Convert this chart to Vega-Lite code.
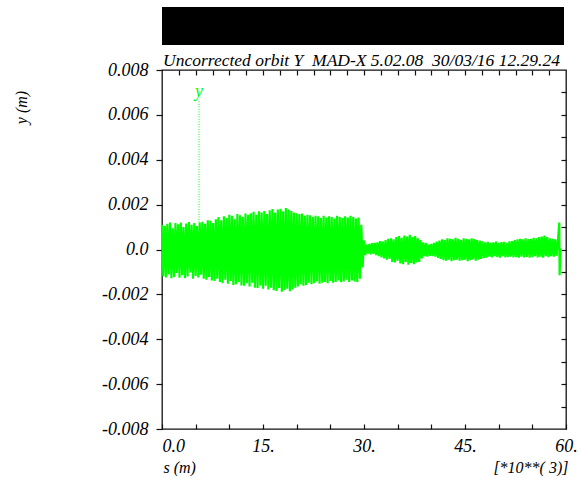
{
  "$schema": "https://vega.github.io/schema/vega-lite/v6.json",
  "padding": {"left": 12, "top": 7, "right": 0, "bottom": 0},
  "background": "white",
  "config": {
    "font": "Liberation Serif",
    "view": {"stroke": null},
    "axis": {"labelOverlap": false, "labelFlush": false, "minExtent": 0, "grid": false}
  },
  "datasets": {
    "orbit": [
      {"s":0.0,"y":0.00110},{"s":0.2,"y":-0.00120},{"s":0.4,"y":0.00105},{"s":0.6,"y":-0.00125},{"s":0.8,"y":0.00115},
      {"s":1.0,"y":-0.00110},{"s":1.2,"y":0.00120},{"s":1.4,"y":-0.00128},{"s":1.6,"y":0.00095},{"s":1.8,"y":-0.00122},
      {"s":2.0,"y":0.00118},{"s":2.2,"y":-0.00105},{"s":2.4,"y":0.00112},{"s":2.6,"y":-0.00126},{"s":2.8,"y":0.00120},
      {"s":3.0,"y":-0.00115},{"s":3.2,"y":0.00100},{"s":3.4,"y":-0.00128},{"s":3.6,"y":0.00116},{"s":3.8,"y":-0.00120},
      {"s":4.0,"y":0.00122},{"s":4.2,"y":-0.00102},{"s":4.4,"y":0.00110},{"s":4.6,"y":-0.00130},{"s":4.8,"y":0.00118},
      {"s":5.0,"y":-0.00118},{"s":5.2,"y":0.00105},{"s":5.4,"y":-0.00125},{"s":5.6,"y":0.00120},{"s":5.8,"y":-0.00112},
      {"s":6.0,"y":0.00124},{"s":6.2,"y":-0.00130},{"s":6.4,"y":0.00115},{"s":6.6,"y":-0.00135},{"s":6.8,"y":0.00130},
      {"s":7.0,"y":-0.00122},{"s":7.2,"y":0.00128},{"s":7.4,"y":-0.00138},{"s":7.6,"y":0.00118},{"s":7.8,"y":-0.00140},
      {"s":8.0,"y":0.00135},{"s":8.2,"y":-0.00130},{"s":8.4,"y":0.00145},{"s":8.6,"y":-0.00145},{"s":8.8,"y":0.00130},
      {"s":9.0,"y":-0.00150},{"s":9.2,"y":0.00148},{"s":9.4,"y":-0.00135},{"s":9.6,"y":0.00140},{"s":9.8,"y":-0.00152},
      {"s":10.0,"y":0.00155},{"s":10.2,"y":-0.00140},{"s":10.4,"y":0.00150},{"s":10.6,"y":-0.00158},{"s":10.8,"y":0.00135},
      {"s":11.0,"y":-0.00155},{"s":11.2,"y":0.00158},{"s":11.4,"y":-0.00145},{"s":11.6,"y":0.00152},{"s":11.8,"y":-0.00160},
      {"s":12.0,"y":0.00145},{"s":12.2,"y":-0.00162},{"s":12.4,"y":0.00160},{"s":12.6,"y":-0.00150},{"s":12.8,"y":0.00155},
      {"s":13.0,"y":-0.00165},{"s":13.2,"y":0.00162},{"s":13.4,"y":-0.00148},{"s":13.6,"y":0.00168},{"s":13.8,"y":-0.00170},
      {"s":14.0,"y":0.00155},{"s":14.2,"y":-0.00172},{"s":14.4,"y":0.00170},{"s":14.6,"y":-0.00160},{"s":14.8,"y":0.00165},
      {"s":15.0,"y":-0.00175},{"s":15.2,"y":0.00172},{"s":15.4,"y":-0.00162},{"s":15.6,"y":0.00158},{"s":15.8,"y":-0.00178},
      {"s":16.0,"y":0.00175},{"s":16.2,"y":-0.00170},{"s":16.4,"y":0.00180},{"s":16.6,"y":-0.00182},{"s":16.8,"y":0.00165},
      {"s":17.0,"y":-0.00185},{"s":17.2,"y":0.00178},{"s":17.4,"y":-0.00172},{"s":17.6,"y":0.00182},{"s":17.8,"y":-0.00188},
      {"s":18.0,"y":0.00170},{"s":18.2,"y":-0.00180},{"s":18.4,"y":0.00185},{"s":18.6,"y":-0.00175},{"s":18.8,"y":0.00178},
      {"s":19.0,"y":-0.00186},{"s":19.2,"y":0.00172},{"s":19.4,"y":-0.00178},{"s":19.6,"y":0.00165},{"s":19.8,"y":-0.00170},
      {"s":20.0,"y":0.00162},{"s":20.2,"y":-0.00165},{"s":20.4,"y":0.00158},{"s":20.6,"y":-0.00155},{"s":20.8,"y":0.00160},
      {"s":21.0,"y":-0.00162},{"s":21.2,"y":0.00150},{"s":21.4,"y":-0.00158},{"s":21.6,"y":0.00155},{"s":21.8,"y":-0.00148},
      {"s":22.0,"y":0.00152},{"s":22.2,"y":-0.00155},{"s":22.4,"y":0.00145},{"s":22.6,"y":-0.00150},{"s":22.8,"y":0.00150},
      {"s":23.0,"y":-0.00142},{"s":23.2,"y":0.00148},{"s":23.4,"y":-0.00152},{"s":23.6,"y":0.00140},{"s":23.8,"y":-0.00148},
      {"s":24.0,"y":0.00150},{"s":24.2,"y":-0.00145},{"s":24.4,"y":0.00142},{"s":24.6,"y":-0.00150},{"s":24.8,"y":0.00148},
      {"s":25.0,"y":-0.00140},{"s":25.2,"y":0.00145},{"s":25.4,"y":-0.00148},{"s":25.6,"y":0.00138},{"s":25.8,"y":-0.00145},
      {"s":26.0,"y":0.00150},{"s":26.2,"y":-0.00138},{"s":26.4,"y":0.00145},{"s":26.6,"y":-0.00146},{"s":26.8,"y":0.00140},
      {"s":27.0,"y":-0.00142},{"s":27.2,"y":0.00148},{"s":27.4,"y":-0.00135},{"s":27.6,"y":0.00142},{"s":27.8,"y":-0.00145},
      {"s":28.0,"y":0.00150},{"s":28.2,"y":-0.00138},{"s":28.4,"y":0.00145},{"s":28.6,"y":-0.00142},{"s":28.8,"y":0.00138},
      {"s":29.0,"y":-0.00145},{"s":29.2,"y":0.00142},{"s":29.4,"y":-0.00130},{"s":29.6,"y":0.00110},{"s":29.8,"y":-0.00080},
      {"s":30.0,"y":0.00040},{"s":30.2,"y":-0.00025},{"s":30.4,"y":0.00022},{"s":30.6,"y":-0.00018},{"s":30.8,"y":0.00025},
      {"s":31.0,"y":-0.00022},{"s":31.2,"y":0.00028},{"s":31.4,"y":-0.00020},{"s":31.6,"y":0.00030},{"s":31.8,"y":-0.00025},
      {"s":32.0,"y":0.00032},{"s":32.2,"y":-0.00030},{"s":32.4,"y":0.00038},{"s":32.6,"y":-0.00035},{"s":32.8,"y":0.00035},
      {"s":33.0,"y":-0.00040},{"s":33.2,"y":0.00042},{"s":33.4,"y":-0.00045},{"s":33.6,"y":0.00048},{"s":33.8,"y":-0.00042},
      {"s":34.0,"y":0.00050},{"s":34.2,"y":-0.00055},{"s":34.4,"y":0.00045},{"s":34.6,"y":-0.00058},{"s":34.8,"y":0.00055},
      {"s":35.0,"y":-0.00050},{"s":35.2,"y":0.00060},{"s":35.4,"y":-0.00062},{"s":35.6,"y":0.00052},{"s":35.8,"y":-0.00065},
      {"s":36.0,"y":0.00062},{"s":36.2,"y":-0.00055},{"s":36.4,"y":0.00058},{"s":36.6,"y":-0.00068},{"s":36.8,"y":0.00065},
      {"s":37.0,"y":-0.00060},{"s":37.2,"y":0.00055},{"s":37.4,"y":-0.00065},{"s":37.6,"y":0.00060},{"s":37.8,"y":-0.00058},
      {"s":38.0,"y":0.00050},{"s":38.2,"y":-0.00055},{"s":38.4,"y":0.00042},{"s":38.6,"y":-0.00040},{"s":38.8,"y":0.00032},
      {"s":39.0,"y":-0.00030},{"s":39.2,"y":0.00028},{"s":39.4,"y":-0.00032},{"s":39.6,"y":0.00022},{"s":39.8,"y":-0.00028},
      {"s":40.0,"y":0.00025},{"s":40.2,"y":-0.00030},{"s":40.4,"y":0.00030},{"s":40.6,"y":-0.00032},{"s":40.8,"y":0.00035},
      {"s":41.0,"y":-0.00038},{"s":41.2,"y":0.00040},{"s":41.4,"y":-0.00042},{"s":41.6,"y":0.00045},{"s":41.8,"y":-0.00048},
      {"s":42.0,"y":0.00042},{"s":42.2,"y":-0.00050},{"s":42.4,"y":0.00050},{"s":42.6,"y":-0.00045},{"s":42.8,"y":0.00048},
      {"s":43.0,"y":-0.00052},{"s":43.2,"y":0.00045},{"s":43.4,"y":-0.00048},{"s":43.6,"y":0.00052},{"s":43.8,"y":-0.00045},
      {"s":44.0,"y":0.00048},{"s":44.2,"y":-0.00050},{"s":44.4,"y":0.00042},{"s":44.6,"y":-0.00048},{"s":44.8,"y":0.00050},
      {"s":45.0,"y":-0.00045},{"s":45.2,"y":0.00048},{"s":45.4,"y":-0.00052},{"s":45.6,"y":0.00045},{"s":45.8,"y":-0.00048},
      {"s":46.0,"y":0.00050},{"s":46.2,"y":-0.00044},{"s":46.4,"y":0.00046},{"s":46.6,"y":-0.00050},{"s":46.8,"y":0.00042},
      {"s":47.0,"y":-0.00045},{"s":47.2,"y":0.00040},{"s":47.4,"y":-0.00042},{"s":47.6,"y":0.00036},{"s":47.8,"y":-0.00038},
      {"s":48.0,"y":0.00032},{"s":48.2,"y":-0.00036},{"s":48.4,"y":0.00034},{"s":48.6,"y":-0.00032},{"s":48.8,"y":0.00030},
      {"s":49.0,"y":-0.00035},{"s":49.2,"y":0.00032},{"s":49.4,"y":-0.00030},{"s":49.6,"y":0.00035},{"s":49.8,"y":-0.00034},
      {"s":50.0,"y":0.00030},{"s":50.2,"y":-0.00036},{"s":50.4,"y":0.00033},{"s":50.6,"y":-0.00030},{"s":50.8,"y":0.00034},
      {"s":51.0,"y":-0.00035},{"s":51.2,"y":0.00030},{"s":51.4,"y":-0.00033},{"s":51.6,"y":0.00036},{"s":51.8,"y":-0.00032},
      {"s":52.0,"y":0.00038},{"s":52.2,"y":-0.00035},{"s":52.4,"y":0.00042},{"s":52.6,"y":-0.00034},{"s":52.8,"y":0.00045},
      {"s":53.0,"y":-0.00036},{"s":53.2,"y":0.00048},{"s":53.4,"y":-0.00032},{"s":53.6,"y":0.00045},{"s":53.8,"y":-0.00035},
      {"s":54.0,"y":0.00050},{"s":54.2,"y":-0.00033},{"s":54.4,"y":0.00046},{"s":54.6,"y":-0.00036},{"s":54.8,"y":0.00048},
      {"s":55.0,"y":-0.00034},{"s":55.2,"y":0.00052},{"s":55.4,"y":-0.00030},{"s":55.6,"y":0.00050},{"s":55.8,"y":-0.00035},
      {"s":56.0,"y":0.00055},{"s":56.2,"y":-0.00032},{"s":56.4,"y":0.00058},{"s":56.6,"y":-0.00036},{"s":56.8,"y":0.00062},
      {"s":57.0,"y":-0.00030},{"s":57.2,"y":0.00055},{"s":57.4,"y":-0.00034},{"s":57.6,"y":0.00050},{"s":57.8,"y":-0.00030},
      {"s":58.0,"y":0.00048},{"s":58.2,"y":-0.00032},{"s":58.4,"y":0.00045},{"s":58.6,"y":-0.00028},{"s":58.8,"y":0.00040},
      {"s":59.0,"y":0.00120},{"s":59.05,"y":-0.00115},{"s":59.2,"y":0.00005}
    ]
  },
  "vconcat": [
    {
      "width": 402,
      "height": 38,
      "title": {
        "text": "Uncorrected orbit Y\u00a0 MAD-X 5.02.08\u00a0 30/03/16 12.29.24",
        "orient": "bottom",
        "anchor": "start",
        "frame": "group",
        "font": "Liberation Serif",
        "fontStyle": "italic",
        "fontWeight": "normal",
        "fontSize": 17.5,
        "color": "black",
        "offset": 21,
        "baseline": "alphabetic",
        "dx": 1
      },
      "data": {"values": [{"a": 0, "b": 1, "c": 0, "d": 1}]},
      "mark": {"type": "rect", "color": "black"},
      "encoding": {
        "x": {"field": "a", "type": "quantitative", "scale": {"domain": [0, 1], "nice": false}, "axis": null},
        "x2": {"field": "b"},
        "y": {"field": "c", "type": "quantitative", "scale": {"domain": [0, 1], "nice": false}, "axis": null},
        "y2": {"field": "d"}
      }
    },
    {
      "width": 404,
      "height": 359,
      "view": {"stroke": "#111", "strokeWidth": 1.3},
      "layer": [
        {
          "layer": [
            {
              "data": {"name": "orbit"},
              "mark": {"type": "line", "color": "#00ff00", "strokeWidth": 2.2, "strokeJoin": "bevel"},
              "encoding": {
                "x": {
                  "field": "s", "type": "quantitative",
                  "scale": {"domain": [0, 60], "nice": false, "zero": false},
                  "axis": {
                    "orient": "bottom",
                    "values": [0, 15, 30, 45, 60],
                    "labelExpr": "datum.value == 0 ? '0.0' : datum.value + '.'",
                    "domain": false,
                    "tickSize": -5,
                    "tickColor": "#111",
                    "tickWidth": 1.2,
                    "labelPadding": 13,
                    "labelFont": "Liberation Serif",
                    "labelFontStyle": "italic",
                    "labelFontSize": 18,
                    "labelColor": "black",
                    "labelFlush": false,
                    "labelOverlap": false,
                    "labelBaseline": "top",
                    "labelAlign": {"condition": {"test": "datum.value == 0", "value": "left"}, "value": "center"},
                    "title": "s (m)",
                    "titleFont": "Liberation Serif",
                    "titleFontStyle": "italic",
                    "titleFontWeight": "normal",
                    "titleFontSize": 16,
                    "titleColor": "black",
                    "titleX": 1,
                    "titleY": 43,
                    "titleAlign": "left",
                    "titleBaseline": "alphabetic"
                  }
                },
                "y": {
                  "field": "y", "type": "quantitative",
                  "scale": {"domain": [-0.008, 0.008], "nice": false, "zero": false},
                  "axis": {
                    "orient": "left",
                    "values": [-0.008, -0.007, -0.006, -0.005, -0.004, -0.003, -0.002, -0.001, 0, 0.001, 0.002, 0.003, 0.004, 0.005, 0.006, 0.007, 0.008],
                    "labelExpr": "abs(datum.value) < 1e-9 ? '0.0' : (round(datum.value * 1000) % 2 == 0 ? (datum.value < 0 ? '-' : '') + format(abs(datum.value), '.3f') : '')",
                    "domain": false,
                    "tickSize": {"condition": {"test": "round(datum.value * 1000) % 2 == 0", "value": 6}, "value": 3},
                    "tickColor": "#111",
                    "tickWidth": 1.2,
                    "labelPadding": 8,
                    "labelFont": "Liberation Serif",
                    "labelFontStyle": "italic",
                    "labelFontSize": 18,
                    "labelColor": "black",
                    "labelFlush": false,
                    "labelOverlap": false,
                    "title": "y (m)",
                    "titleFont": "Liberation Serif",
                    "titleFontStyle": "italic",
                    "titleFontWeight": "normal",
                    "titleFontSize": 16,
                    "titleColor": "black",
                    "titleAngle": -90,
                    "titleX": -141,
                    "titleY": 37,
                    "titleAlign": "center",
                    "titleBaseline": "middle"
                  }
                }
              }
            },
            {
              "data": {"values": [{"s": 5.5, "y": 0.0066, "y2": 0.0012}]},
              "mark": {"type": "rule", "color": "#00ff00", "strokeWidth": 1, "strokeDash": [1, 1.5]},
              "encoding": {
                "x": {"field": "s", "type": "quantitative"},
                "y": {"field": "y", "type": "quantitative"},
                "y2": {"field": "y2"}
              }
            },
            {
              "data": {"values": [{"s": 5.5, "y": 0.0068, "label": "y"}]},
              "mark": {"type": "text", "color": "#00ff00", "font": "Liberation Serif", "fontStyle": "italic", "fontSize": 18, "align": "center", "baseline": "alphabetic"},
              "encoding": {
                "x": {"field": "s", "type": "quantitative"},
                "y": {"field": "y", "type": "quantitative"},
                "text": {"field": "label"}
              }
            }
          ]
        },
        {
          "data": {"values": [{"s": 0, "y": 0}]},
          "mark": {"type": "point", "opacity": 0},
          "encoding": {
            "x": {
              "field": "s", "type": "quantitative",
              "scale": {"domain": [0, 60], "nice": false, "zero": false},
              "axis": {
                "orient": "top",
                "values": [2.5, 5, 7.5, 10, 12.5, 15, 17.5, 20, 22.5, 25, 27.5, 30, 32.5, 35, 37.5, 40, 42.5, 45, 47.5, 50, 52.5, 55, 57.5],
                "labels": false,
                "domain": false,
                "tickSize": -5,
                "tickColor": "#111",
                "tickWidth": 1.2,
                "minExtent": 0,
                "maxExtent": 0,
                "title": null
              }
            },
            "y": {
              "field": "y", "type": "quantitative",
              "scale": {"domain": [-0.008, 0.008], "nice": false, "zero": false},
              "axis": {
                "orient": "right",
                "values": [-0.007, -0.006, -0.005, -0.004, -0.003, -0.002, -0.001, 0, 0.001, 0.002, 0.003, 0.004, 0.005, 0.006, 0.007],
                "labels": false,
                "domain": false,
                "tickSize": -5,
                "tickColor": "#111",
                "tickWidth": 1.2,
                "minExtent": 0,
                "maxExtent": 0,
                "title": null
              }
            }
          }
        },
        {
          "data": {"values": [{"s": 0, "y": 0}]},
          "mark": {"type": "point", "opacity": 0},
          "encoding": {
            "x": {
              "field": "s", "type": "quantitative",
              "scale": {"domain": [0, 60], "nice": false, "zero": false},
              "axis": {
                "orient": "bottom",
                "values": [5, 10, 20, 25, 35, 40, 50, 55],
                "labels": false,
                "domain": false,
                "tickSize": -5,
                "tickColor": "#111",
                "tickWidth": 1.2,
                "title": "[*10**( 3)]",
                "titleFont": "Liberation Serif",
                "titleFontStyle": "italic",
                "titleFontWeight": "normal",
                "titleFontSize": 16,
                "titleColor": "black",
                "titleX": 406,
                "titleY": 43,
                "titleAlign": "right",
                "titleBaseline": "alphabetic"
              }
            },
            "y": {
              "field": "y", "type": "quantitative",
              "scale": {"domain": [-0.008, 0.008], "nice": false, "zero": false},
              "axis": null
            }
          }
        }
      ],
      "resolve": {"scale": {"x": "independent", "y": "independent"}, "axis": {"x": "independent", "y": "independent"}}
    }
  ],
  "spacing": -10
}
